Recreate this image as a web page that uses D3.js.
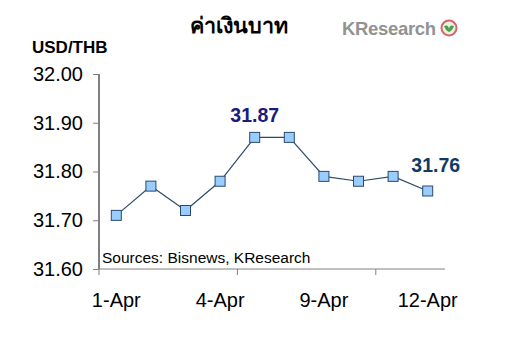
<!DOCTYPE html>
<html>
<head>
  <meta charset="utf-8">
  <script src="https://d3js.org/d3.v7.min.js"></script>
  <style>
    body { margin: 0; background: #fff; }
    text { font-family: "Liberation Sans", Arial, sans-serif; }
  </style>
</head>
<body>
  <svg id="chart" width="525" height="337"></svg>
<script>
  // data
  const dates = ["1-Apr", "2-Apr", "3-Apr", "4-Apr", "5-Apr", "8-Apr", "9-Apr", "10-Apr", "11-Apr", "12-Apr"];
  const rates = [31.71, 31.77, 31.72, 31.78, 31.87, 31.87, 31.79, 31.78, 31.79, 31.76];
  const yTicks = [31.60, 31.70, 31.80, 31.90, 32.00];
  const xLabels = ["1-Apr", "4-Apr", "9-Apr", "12-Apr"];
  const callouts = [
    { i: 4, text: "31.87", color: "#1b1b7c" },
    { i: 9, text: "31.76", color: "#0f3a66" }
  ];

  const svg = d3.select("#chart");
  const margin = { top: 74, left: 99 };
  const plotW = 346, plotH = 195;

  const x = d3.scaleBand().domain(dates).range([0, plotW]);
  const y = d3.scaleLinear().domain([31.60, 32.00]).range([plotH, 0]);

  const g = svg.append("g").attr("transform", "translate(" + margin.left + "," + margin.top + ")");

  // titles
  svg.append("text")
    .attr("x", 239).attr("y", 33)
    .attr("text-anchor", "middle")
    .style("font-family", "'Noto Sans', 'DejaVu Sans', sans-serif")
    .style("font-weight", "bold").style("font-size", "21.5px")
    .text("ค่าเงินบาท");

  svg.append("text")
    .attr("x", 32).attr("y", 53)
    .style("font-weight", "bold").style("font-size", "17px")
    .text("USD/THB");

  // logo
  svg.append("text")
    .attr("x", 342).attr("y", 35)
    .style("font-weight", "bold").style("font-size", "18.5px")
    .style("fill", "#929292")
    .attr("textLength", 94)
    .text("KResearch");
  svg.append("circle")
    .attr("cx", 449).attr("cy", 28).attr("r", 7.5)
    .attr("fill", "#e9f3e4").attr("stroke", "#d9636b").attr("stroke-width", 2);
  svg.append("path")
    .attr("d", "M444,26 Q449,24 449,30 Q449,24 454,26 Q452,31 449,32 Q446,31 444,26Z")
    .attr("fill", "#4aa04a");

  // y axis
  const yAxis = g.append("g")
    .call(d3.axisLeft(y).tickValues(yTicks).tickFormat(d3.format(".2f")).tickSize(6).tickPadding(10));
  yAxis.select(".domain").attr("stroke", "#000").attr("d", "M0," + plotH + "V0");
  yAxis.selectAll(".tick line").attr("stroke", "#808080");
  yAxis.selectAll(".tick text")
    .style("font-size", "20px").style("font-family", "'Liberation Sans', Arial, sans-serif")
    .attr("fill", "#000");

  // x axis: tick marks every 4 categories, labels every 3
  const xAxis = g.append("g").attr("transform", "translate(0," + plotH + ")");
  xAxis.append("line")
    .attr("x1", 0).attr("x2", plotW)
    .attr("stroke", "#808080");
  xAxis.selectAll("line.tick")
    .data(d3.range(0, dates.length, 4))
    .join("line")
    .attr("class", "tick")
    .attr("x1", i => i * x.step()).attr("x2", i => i * x.step())
    .attr("y1", 0).attr("y2", 6)
    .attr("stroke", "#808080");
  xAxis.selectAll("text")
    .data(xLabels)
    .join("text")
    .attr("x", d => x(d) + x.bandwidth() / 2)
    .attr("y", 38)
    .attr("text-anchor", "middle")
    .style("font-size", "20px")
    .text(d => d);

  // line and markers
  const line = d3.line()
    .x((d, i) => x(dates[i]) + x.bandwidth() / 2)
    .y(d => y(d));

  g.append("path")
    .datum(rates)
    .attr("d", line)
    .attr("fill", "none")
    .attr("stroke", "#2b4a6b")
    .attr("stroke-width", 1.2);

  const ms = 10;
  g.selectAll("rect.marker")
    .data(rates)
    .join("rect")
    .attr("class", "marker")
    .attr("x", (d, i) => x(dates[i]) + x.bandwidth() / 2 - ms / 2)
    .attr("y", d => y(d) - ms / 2)
    .attr("width", ms).attr("height", ms)
    .attr("fill", "#99ccff")
    .attr("stroke", "#2b4a6b")
    .attr("stroke-width", 1);

  // value callouts
  g.selectAll("text.callout")
    .data(callouts)
    .join("text")
    .attr("class", "callout")
    .attr("x", d => x(dates[d.i]) + x.bandwidth() / 2 + (d.i === 9 ? 8 : 0))
    .attr("y", d => y(rates[d.i]) - (d.i === 9 ? 19 : 15.5))
    .attr("text-anchor", "middle")
    .style("font-weight", "bold").style("font-size", "19.5px")
    .attr("fill", d => d.color)
    .text(d => d.text);

  // source note
  g.append("text")
    .attr("x", 3).attr("y", plotH - 6)
    .style("font-size", "15.5px")
    .text("Sources: Bisnews, KResearch");
</script>
</body>
</html>
